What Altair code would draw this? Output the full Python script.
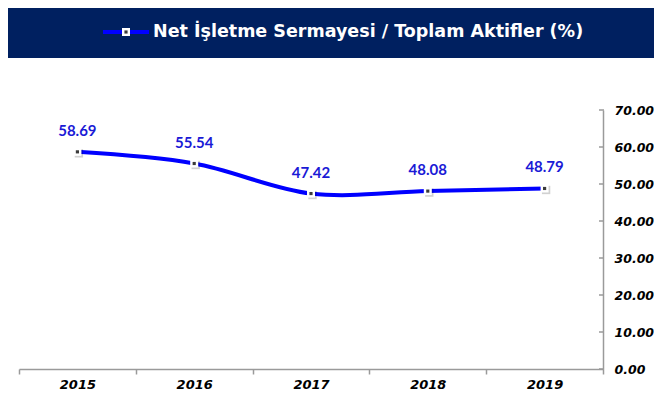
import altair as alt
import pandas as pd

years = ["2015", "2016", "2017", "2018", "2019"]
values = [58.69, 55.54, 47.42, 48.08, 48.79]
y_ticks = [0, 10, 20, 30, 40, 50, 60, 70]
series_name = "Net İşletme Sermayesi / Toplam Aktifler (%)"

df = pd.DataFrame({"year": years, "value": values})
tick_df = pd.DataFrame({"value": y_ticks})
one = pd.DataFrame({"name": [series_name]})

BLUE = "#0000FF"
LABEL_BLUE = "#1A1AD6"
NAVY = "#002060"
GRAY = "#9a9a9a"
AXFONT = "DejaVu Sans"

x_enc = alt.X(
    "year:N",
    bandPosition=0.5,
    scale=alt.Scale(type="band", paddingInner=0, paddingOuter=0),
    axis=alt.Axis(
        title=None, labelAngle=0, tickBand="extent", domainColor=GRAY,
        domainWidth=1.5, tickColor=GRAY, tickWidth=1.5, tickSize=5,
        labelFont=AXFONT, labelFontWeight="bold", labelFontStyle="italic",
        labelFontSize=13, labelColor="#000000", labelPadding=4,
    ),
)
y_axis = alt.Axis(
    title=None, orient="right", values=y_ticks, format=".2f", grid=False,
    ticks=False, domainColor=GRAY, domainWidth=1.5, labelOverlap=False,
    labelFont=AXFONT, labelFontWeight="bold", labelFontStyle="italic",
    labelFontSize=12.5, labelColor="#000000", labelPadding=11,
)
y_scale = alt.Scale(domain=[0, 70], nice=False)
y_enc = alt.Y("value:Q", scale=y_scale, axis=y_axis)

base = alt.Chart(df).encode(x=x_enc, y=y_enc)

line = base.mark_line(color=BLUE, strokeWidth=4, interpolate="catmull-rom")
shadow = base.mark_square(size=70, color="#000000", opacity=0.18, filled=True,
                          xOffset=1.5, yOffset=1.5)
sq = base.mark_square(size=64, color="#ffffff", filled=True, opacity=1)
dot = base.mark_square(size=10, color="#3a3a3a", filled=True, opacity=1)
labels = base.mark_text(
    font="Lato", fontWeight="bold", fontSize=15, color=LABEL_BLUE,
    dy=-16, baseline="alphabetic", align="center",
).encode(text=alt.Text("value:Q", format=".2f"))

yticks = alt.Chart(tick_df).mark_rule(color=GRAY, strokeWidth=1.5).encode(
    y=alt.Y("value:Q", scale=y_scale, axis=y_axis), x=alt.value(580), x2=alt.value(585)
)

banner = alt.Chart(one).mark_rect(color=NAVY).encode(
    x=alt.value(-14), x2=alt.value(640), y=alt.value(-102), y2=alt.value(-52)
)
leg_line = alt.Chart(one).mark_rule(color=BLUE, strokeWidth=4).encode(
    x=alt.value(84), x2=alt.value(130), y=alt.value(-78)
)
leg_sq = alt.Chart(one).mark_square(size=64, color="#ffffff", filled=True, opacity=1).encode(
    x=alt.value(107), y=alt.value(-78)
)
leg_dot = alt.Chart(one).mark_square(size=10, color="#3a3a3a", filled=True, opacity=1).encode(
    x=alt.value(107), y=alt.value(-78)
)
leg_text = alt.Chart(one).mark_text(
    font="DejaVu Sans", fontWeight="bold", fontSize=17.5, color="#ffffff",
    align="left", baseline="middle",
).encode(x=alt.value(134), y=alt.value(-78), text="name:N")

chart = alt.layer(
    line, shadow, sq, dot, labels, yticks,
    banner, leg_line, leg_sq, leg_dot, leg_text,
).properties(
    width=584, height=259,
    background="#ffffff",
    autosize=alt.AutoSizeParams(type="none"),
    padding={"left": 11, "top": 102, "right": 51, "bottom": 21},
).configure_view(strokeWidth=0, stroke="transparent")

chart.save("out.html", embed_options={"renderer": "svg", "actions": False})
